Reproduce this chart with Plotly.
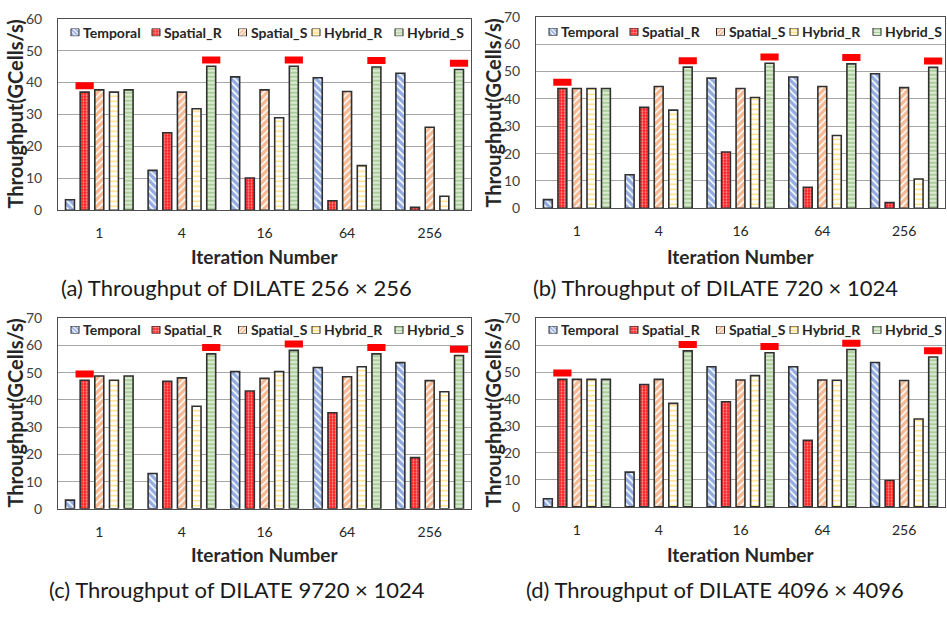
import plotly.graph_objects as go

# ---------------- data ----------------
iterations = ["1", "4", "16", "64", "256"]
series = ["Temporal", "Spatial_R", "Spatial_S", "Hybrid_R", "Hybrid_S"]

# (a) DILATE 256 x 256
a_temporal = [3.3, 12.5, 41.8, 41.5, 42.9]
a_spatial_r = [37.0, 24.3, 10.1, 3.0, 0.9]
a_spatial_s = [37.7, 37.0, 37.7, 37.2, 26.0]
a_hybrid_r = [37.0, 31.8, 29.0, 14.0, 4.4]
a_hybrid_s = [37.7, 45.1, 45.1, 44.9, 44.1]

# (b) DILATE 720 x 1024
b_temporal = [3.2, 12.3, 47.6, 48.0, 49.2]
b_spatial_r = [43.8, 36.9, 20.6, 7.7, 2.1]
b_spatial_s = [43.8, 44.5, 43.8, 44.5, 44.1]
b_hybrid_r = [43.8, 35.9, 40.5, 26.6, 10.7]
b_hybrid_s = [43.8, 51.6, 53.0, 52.8, 51.5]

# (c) DILATE 9720 x 1024
c_temporal = [3.2, 13.0, 50.4, 51.9, 53.7]
c_spatial_r = [47.2, 46.8, 43.3, 35.3, 18.8]
c_spatial_s = [48.8, 48.1, 47.9, 48.5, 47.1]
c_hybrid_r = [47.2, 37.7, 50.4, 52.2, 43.0]
c_hybrid_s = [48.8, 56.9, 58.2, 56.9, 56.3]

# (d) DILATE 4096 x 4096
d_temporal = [3.0, 12.9, 52.0, 52.0, 53.6]
d_spatial_r = [47.3, 45.4, 39.0, 24.7, 9.8]
d_spatial_s = [47.3, 47.3, 47.1, 47.1, 46.9]
d_hybrid_r = [47.3, 38.4, 48.7, 47.0, 32.6]
d_hybrid_s = [47.3, 57.9, 57.2, 58.4, 55.6]

# series marked as best (red tag) for each iteration group
best = ["Spatial_R", "Hybrid_S", "Hybrid_S", "Hybrid_S", "Hybrid_S"]

captions = [
    "(a) Throughput of DILATE 256 × 256",
    "(b) Throughput of DILATE 720 × 1024",
    "(c) Throughput of DILATE 9720 × 1024",
    "(d) Throughput of DILATE 4096 × 4096",
]
y_max = [60, 70, 70, 70]
x_title = "Iteration Number"
y_title = "Throughput(GCells/s)"

panels_data = [
    [a_temporal, a_spatial_r, a_spatial_s, a_hybrid_r, a_hybrid_s],
    [b_temporal, b_spatial_r, b_spatial_s, b_hybrid_r, b_hybrid_s],
    [c_temporal, c_spatial_r, c_spatial_s, c_hybrid_r, c_hybrid_s],
    [d_temporal, d_spatial_r, d_spatial_s, d_hybrid_r, d_hybrid_s],
]

# ---------------- styling ----------------
W, H = 947, 617
FONT = "Lato, 'Open Sans', sans-serif"
patterns = {
    "Temporal": dict(shape="\\", fgcolor="#2A5CC4", bgcolor="white", size=5, solidity=0.7),
    "Spatial_R": dict(shape=".", fgcolor="white", bgcolor="#FF1010", size=3, solidity=0.45),
    "Spatial_S": dict(shape="/", fgcolor="#EB7428", bgcolor="white", size=5, solidity=0.7),
    "Hybrid_R": dict(shape="-", fgcolor="#FFC000", bgcolor="white", size=5, solidity=0.3),
    "Hybrid_S": dict(shape="-", fgcolor="#5A9E35", bgcolor="white", size=4, solidity=0.72),
}
outline = dict(color="#303030", width=1.6)

# panel rectangles in pixels: left, right, top, bottom
rects = [(58, 471, 10, 207), (536, 945, 8, 205), (58, 471, 318, 514), (536, 945, 318, 512)]
ytitle_x = [15, 493, 15, 493]
xtick_gap = 10
xtitle_y = [255, 255, 561, 561]
caption_y = [286, 286, 597, 597]
caption_x = [237, 715, 237, 715]
legend_y = [24, 23.5, 330, 330]
legend_icon_x = [17, 98, 184.5, 258, 341]  # relative to panel left
bargap = 0.1125
bargroupgap = 0.39
slot = (1 - bargap) / len(series)


def px_x(v):
    return v / W


def px_y(v):
    return 1 - v / H


fig = go.Figure()
layout = dict(
    width=W, height=H, autosize=False,
    margin=dict(l=0, r=0, t=0, b=0),
    paper_bgcolor="white", plot_bgcolor="white",
    barmode="group", bargap=bargap, bargroupgap=bargroupgap,
    showlegend=False,
    font=dict(family=FONT, color="#262626"),
)
annotations = []

for p, data in enumerate(panels_data):
    left, right, top, bottom = rects[p]
    n = p + 1
    xa = "x" if n == 1 else f"x{n}"
    ya = "y" if n == 1 else f"y{n}"
    ln = p + 5
    lxa, lya = f"x{ln}", f"y{ln}"
    xkey = "xaxis" if n == 1 else f"xaxis{n}"
    ykey = "yaxis" if n == 1 else f"yaxis{n}"

    for k, name in enumerate(series):
        fig.add_trace(go.Bar(
            x=list(range(len(iterations))), y=data[k], name=name,
            xaxis=xa, yaxis=ya,
            marker=dict(color="white", line=outline, pattern=patterns[name]),
            hoverinfo="skip",
        ))

    # red tags above the marked bars
    plot_h = bottom - top
    delta = 6.5 * y_max[p] / plot_h
    tx, ty = [], []
    for i, b in enumerate(best):
        k = series.index(b)
        tx.append(i + (k - 2) * slot)
        ty.append(data[k][i] + delta)
    fig.add_trace(go.Scatter(
        x=tx, y=ty, mode="markers", xaxis=xa, yaxis=ya,
        marker=dict(symbol="line-ew", size=13, line=dict(color="#FF0000", width=7)),
        hoverinfo="skip",
    ))

    layout[xkey] = dict(
        domain=[px_x(left), px_x(right)], range=[-0.5, len(iterations) - 0.5],
        anchor=ya, tickmode="array", tickvals=list(range(len(iterations))), ticktext=iterations,
        showline=True, mirror=True, linecolor="#4d4d4d", linewidth=1,
        showgrid=False, zeroline=False, ticks="", ticklabelstandoff=xtick_gap,
        tickfont=dict(family=FONT, size=14, color="#262626"),
    )
    layout[ykey] = dict(
        domain=[px_y(bottom), px_y(top)], range=[0, y_max[p]], dtick=10,
        anchor=xa, showline=True, mirror=True, linecolor="#4d4d4d", linewidth=1,
        showgrid=True, gridcolor="#A6A6A6", gridwidth=1, zeroline=False,
        ticks="", ticklabelstandoff=12,
        tickfont=dict(family=FONT, size=14, color="#404040"),
    )

    # manual legend (icons as tiny bars on an overlay axis)
    pw = right - left
    ly = legend_y[p]
    layout[f"xaxis{ln}"] = dict(domain=[px_x(left), px_x(right)], range=[0, pw],
                                visible=False, anchor=lya, fixedrange=True)
    layout[f"yaxis{ln}"] = dict(domain=[px_y(ly + 4), px_y(ly - 4)], range=[0, 1],
                                visible=False, anchor=lxa, fixedrange=True)
    for k, name in enumerate(series):
        fig.add_trace(go.Bar(
            x=[legend_icon_x[k]], y=[1], width=[8], offset=-4,
            xaxis=lxa, yaxis=lya,
            marker=dict(color="white", line=dict(color="#262626", width=1),
                        pattern=dict(patterns[name], size=3, solidity=0.6)),
            hoverinfo="skip",
        ))
        annotations.append(dict(
            x=legend_icon_x[k] + 6, y=0.5, xref=lxa, yref=lya, text=name,
            showarrow=False, xanchor="left", yanchor="middle",
            font=dict(family=FONT, size=14, color="#262626", weight="bold"),
        ))

    # axis titles
    annotations.append(dict(
        x=px_x(ytitle_x[p]), y=px_y((top + bottom) / 2), xref="paper", yref="paper",
        text=f"<b>{y_title}</b>", textangle=-90, showarrow=False,
        xanchor="center", yanchor="middle",
        font=dict(family=FONT, size=20, color="#262626"),
    ))
    annotations.append(dict(
        x=px_x((left + right) / 2), y=px_y(xtitle_y[p]), xref="paper", yref="paper",
        text=f"<b>{x_title}</b>", showarrow=False, xanchor="center", yanchor="middle",
        font=dict(family=FONT, size=19, color="#262626"),
    ))
    annotations.append(dict(
        x=px_x(caption_x[p]), y=px_y(caption_y[p]), xref="paper", yref="paper",
        text=captions[p], showarrow=False, xanchor="center", yanchor="middle",
        font=dict(family=FONT, size=22, color="#1a1a1a"),
    ))

layout["annotations"] = annotations
fig.update_layout(**layout)
fig.write_html("out.html", config={"displayModeBar": False},
               post_script="document.body.style.margin='0px';")
